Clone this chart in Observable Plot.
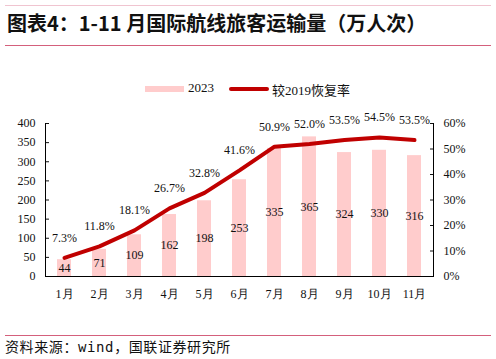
<!DOCTYPE html>
<html><head><meta charset="utf-8">
<script src="https://cdn.jsdelivr.net/npm/d3@7"></script>
<script src="https://cdn.jsdelivr.net/npm/@observablehq/plot@0.6"></script>
<style>
body{margin:0;background:#fff;width:496px;height:359px;position:relative;overflow:hidden;font-family:"Liberation Serif",serif;}
.hr{position:absolute;left:5px;width:486px;height:1px;}
#title{position:absolute;left:7px;top:8px;font-family:"Noto Sans CJK SC",sans-serif;font-weight:bold;font-size:20px;color:#111;white-space:nowrap;}
#legend{position:absolute;top:80px;left:0;width:496px;height:16px;font-size:13px;color:#111;}
#caption{position:absolute;left:5px;top:336px;font-family:"Noto Sans CJK SC",sans-serif;font-size:14px;letter-spacing:0.6px;color:#111;white-space:nowrap;}
#chart{position:absolute;left:0;top:100px;}
</style></head>
<body>
<div class="hr" style="top:5px;background:#f0c4d0"></div>
<div id="title">图表4：1-11 月国际航线旅客运输量（万人次）</div>
<div class="hr" style="top:45px;background:#d4607c"></div>
<div id="legend">
  <div style="position:absolute;left:145px;top:6px;width:39px;height:6px;background:#FFCCCC"></div>
  <div style="position:absolute;left:188px;top:0px;">2023</div>
  <div style="position:absolute;left:229px;top:7px;width:40px;height:4px;border-radius:2px;background:#C00000"></div>
  <div style="position:absolute;left:272px;top:0px;font-family:'Liberation Serif','Noto Sans CJK SC',serif;">较2019恢复率</div>
</div>
<div id="chart"></div>
<div class="hr" style="top:335px;background:#d4607c"></div>
<div id="caption">资料来源：<span style="font-family:'DejaVu Sans Mono',monospace">wind</span>，国联证券研究所</div>
<script>
const months = ["1月","2月","3月","4月","5月","6月","7月","8月","9月","10月","11月"];
const passengers2023 = [44,71,109,162,198,253,335,365,324,330,316];
const recoveryPct = [7.3,11.8,18.1,26.7,32.8,41.6,50.9,52.0,53.5,54.5,53.5];
const leftTicks = [0,50,100,150,200,250,300,350,400];
const rightTicks = [0,10,20,30,40,50,60];

const k = 400/60;
const data = months.map((m,i)=>({m, v: passengers2023[i], p: recoveryPct[i]}));
const font = "Liberation Serif";

const svg = Plot.plot({
  width: 496, height: 200,
  marginTop: 23, marginBottom: 24, marginLeft: 45, marginRight: 63,
  style: {fontFamily: font, fontSize: "12px", color: "#111", background: "transparent"},
  x: {domain: months, paddingInner: 0.6, paddingOuter: 0.3, label: null},
  y: {domain: [0,400], label: null},
  marks: [
    Plot.barY(data, {x: "m", y: "v", fill: "#FFCCCC"}),
    Plot.text(data, {x: "m", y: d => d.v/2, text: d => String(d.v), fontSize: 12, fill: "#111"}),
    Plot.line(data, {x: "m", y: d => d.p*k, stroke: "#C00000", strokeWidth: 4, strokeLinejoin: "round", strokeLinecap: "round"}),
    Plot.text(data, {x: "m", y: d => d.p*k, text: d => d.p.toFixed(1)+"%", dy: -20, fontSize: 12, fill: "#111"}),
    Plot.axisY(leftTicks, {anchor: "left", tickSize: -4, tickPadding: 14, label: null, fontSize: 12}),
    Plot.axisY(rightTicks, {anchor: "right", y: d => d*k, text: d => d+"%", tickSize: -4, tickPadding: 14, label: null, fontSize: 12}),
    Plot.axisX({tickSize: 0, tickPadding: 13, label: null, fontSize: 12}),
    Plot.frame({anchor: "left", stroke: "#000"}),
    Plot.frame({anchor: "right", stroke: "#000"}),
    Plot.ruleY([0], {stroke: "#000"})
  ]
});
document.getElementById("chart").appendChild(svg);
</script>
</body></html>
